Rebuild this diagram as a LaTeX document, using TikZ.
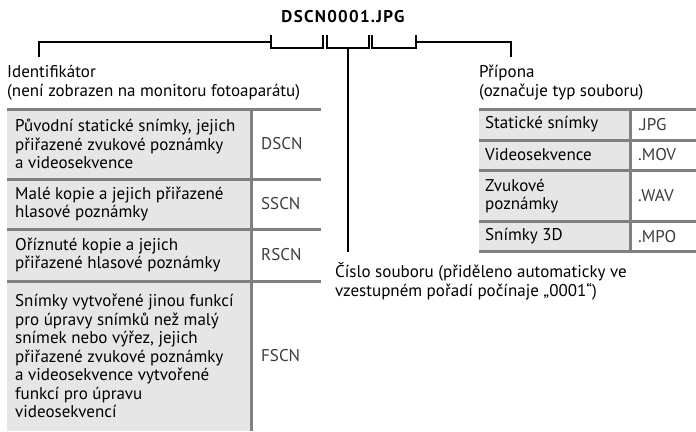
\documentclass[tikz,border=0pt]{standalone}
\usepackage{fontspec}
\setmainfont{PT Sans}
\usetikzlibrary{positioning}
\definecolor{CellGray}{RGB}{230,230,230}
\definecolor{RuleGray}{RGB}{128,128,128}
\definecolor{CodeGray}{RGB}{60,60,60}

\tikzset{
  txt/.style={inner sep=0pt, align=left, font=\fontsize{17}{18.5}\selectfont},
  lbl/.style={txt, anchor=base west},
  cell/.style={txt, anchor=west},
  code/.style={txt, anchor=west, text=CodeGray},
  rule/.style={RuleGray, line width=3pt},
  brace/.style={black, line width=2pt}
}

\begin{document}
\begin{tikzpicture}[x=1pt, y=-1pt]
    \useasboundingbox (0,0) rectangle (696,431);

    % file name with the three brackets
    \node[inner sep=0pt, font=\fontsize{17}{17}\bfseries\addfontfeature{LetterSpace=7.5}] (title) at (343,17) {DSCN0001.JPG};
    \coordinate (idA) at (271,35);  \coordinate (idB) at (322.7,35);
    \coordinate (nrA) at (326.7,35); \coordinate (nrB) at (369,35);
    \coordinate (exA) at (371.7,35); \coordinate (exB) at (415.7,35);
    \coordinate (nrMid) at (348,48);
    \draw[brace] (idA) -- ++(0,13) -| (idB);
    \draw[brace] (nrA) -- ++(0,13) -| (nrB);
    \draw[brace] (exA) -- ++(0,13) -| (exB);

    % labels (base = last line)
    \node[lbl] (ident) at (7,96) {Identifikátor\\(není zobrazen na monitoru fotoaparátu)};
    \node[lbl] (ext) at (479,96) {Přípona\\(označuje typ souboru)};
    \node[lbl] (nr) at (335,296) {Číslo souboru (přiděleno automaticky ve\\vzestupném pořadí počínaje „0001“)};

    \coordinate (identTop) at (39,57);
    \coordinate (extTop) at (511,57);
    \coordinate (nrTop) at (348,252);
    \draw[brace] ([yshift=-7pt]idA) -| (identTop);
    \draw[brace] ([yshift=-7pt]exB) -| (extTop);
    \draw[brace] (nrMid) -- (nrTop);

    % identifier table
    \fill[CellGray] (7,109) rectangle (251.7,431);
    \draw[rule] (7,109) -- (320.7,109);
    \draw[rule] (7,179) -- (320.7,179);
    \draw[rule] (7,229) -- (320.7,229);
    \draw[rule] (7,281) -- (320.7,281);
    \draw[rule] (251.7,109) -- (251.7,431);

    \node[cell] (rowD) at (15,144) {Původní statické snímky, jejich\\přiřazené zvukové poznámky\\a videosekvence};
    \node[cell] (rowS) at (15,204) {Malé kopie a jejich přiřazené\\hlasové poznámky};
    \node[cell] (rowR) at (15,255) {Oříznuté kopie a jejich\\přiřazené hlasové poznámky};
    \node[cell] (rowF) at (15,356) {Snímky vytvořené jinou funkcí\\pro úpravy snímků než malý\\snímek nebo výřez, jejich\\přiřazené zvukové poznámky\\a videosekvence vytvořené\\funkcí pro úpravu\\videosekvencí};
    \node[code] (codeD) at (261,144) {DSCN};
    \node[code] (codeS) at (261,204) {SSCN};
    \node[code] (codeR) at (261,255) {RSCN};
    \node[code] (codeF) at (261,356) {FSCN};

    % extension table
    \fill[CellGray] (479,109) rectangle (630.7,251);
    \foreach \y in {109,140,170,221.7,251}
      \draw[rule] (479,\y) -- (696,\y);
    \draw[rule] (630.7,109) -- (630.7,251);

    \node[cell] (rowJ) at (485,124.5) {Statické snímky};
    \node[cell] (rowM) at (485,155) {Videosekvence};
    \node[cell] (rowW) at (485,196) {Zvukové\\poznámky};
    \node[cell] (row3) at (485,236.3) {Snímky 3D};
    \node[code] (codeJ) at (638,124.5) {.JPG};
    \node[code] (codeM) at (638,155) {.MOV};
    \node[code] (codeW) at (638,196) {.WAV};
    \node[code] (code3) at (638,236.3) {.MPO};
  \end{tikzpicture}
\end{document}
